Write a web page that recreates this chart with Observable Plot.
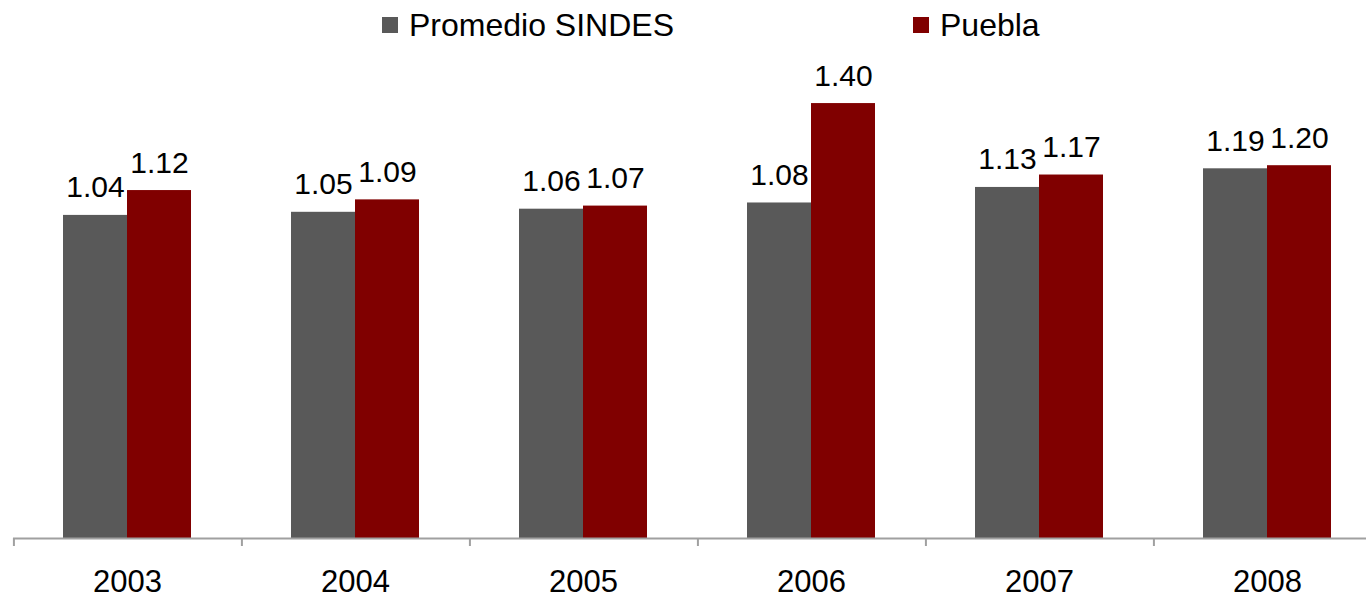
<!DOCTYPE html>
<html>
<head>
<meta charset="utf-8">
<script src="https://cdn.jsdelivr.net/npm/d3@7"></script>
<script src="https://cdn.jsdelivr.net/npm/@observablehq/plot@0.6"></script>
<style>
  html, body { margin: 0; padding: 0; background: #fff; overflow: hidden; width: 1366px; height: 597px; }
  body { font-family: "Liberation Sans", Arial, sans-serif; }
  #legend { position: relative; height: 50px; width: 1366px; }
  .sw { position: absolute; width: 16px; height: 16px; top: 17px; }
  .lt { position: absolute; top: 7px; font-size: 32px; line-height: 37px; color: #000; white-space: nowrap; }
  #chart { display: block; width: 1366px; overflow: hidden; }
  #chart svg { max-width: none !important; }
</style>
</head>
<body>
<div id="legend"></div>
<div id="chart"></div>
<script>
const years = ["2003", "2004", "2005", "2006", "2007", "2008"];
const seriesNames = ["Promedio SINDES", "Puebla"];
const promedioSindes = [1.04, 1.05, 1.06, 1.08, 1.13, 1.19];
const puebla = [1.12, 1.09, 1.07, 1.40, 1.17, 1.20];
const colors = ["#595959", "#800000"];

const data = [];
years.forEach((y, i) => {
  data.push({year: y, series: seriesNames[0], value: promedioSindes[i]});
  data.push({year: y, series: seriesNames[1], value: puebla[i]});
});

// legend
const legend = document.getElementById("legend");
const legendPos = [{sq: 382, tx: 409}, {sq: 913, tx: 940}];
seriesNames.forEach((s, i) => {
  const sq = document.createElement("div");
  sq.className = "sw";
  sq.style.left = legendPos[i].sq + "px";
  sq.style.background = colors[i];
  legend.appendChild(sq);
  const t = document.createElement("div");
  t.className = "lt";
  t.style.left = legendPos[i].tx + "px";
  t.textContent = s;
  legend.appendChild(t);
});

const W = 1381, ML = 12;
const facetStep = (W - ML) / years.length;
const barStep = 65;
const outer = (facetStep / barStep - 2) / 2;

const plot = Plot.plot({
  width: W,
  height: 547,
  marginLeft: ML,
  marginRight: 0,
  marginTop: 22,
  marginBottom: 59,
  style: {fontFamily: "Liberation Sans, Arial, sans-serif", fontSize: "31px", color: "#000", background: "#fff", maxWidth: "none"},
  fx: {domain: years, padding: 0, axis: "bottom", tickSize: 0, tickPadding: 31, label: null},
  x: {domain: seriesNames, paddingInner: 0, paddingOuter: outer, axis: null},
  y: {domain: [0, 1.5], axis: null},
  color: {domain: seriesNames, range: colors},
  marks: [
    Plot.barY(data, {fx: "year", x: "series", y: "value", fill: "series"}),
    Plot.ruleY([0], {stroke: "#a0a0a0", strokeWidth: 2}),
    Plot.ruleX(years, {fx: d => d, x: () => seriesNames[0], y1: 0, y2: 0, insetBottom: -8, dx: -(outer * barStep + barStep / 2), stroke: "#a0a0a0", strokeWidth: 2}),
    Plot.text(data, {fx: "year", x: "series", y: "value", text: d => d.value.toFixed(2), lineAnchor: "bottom", dy: -18, fontSize: 30, fill: "#000"})
  ]
});
document.getElementById("chart").appendChild(plot);
</script>
</body>
</html>
